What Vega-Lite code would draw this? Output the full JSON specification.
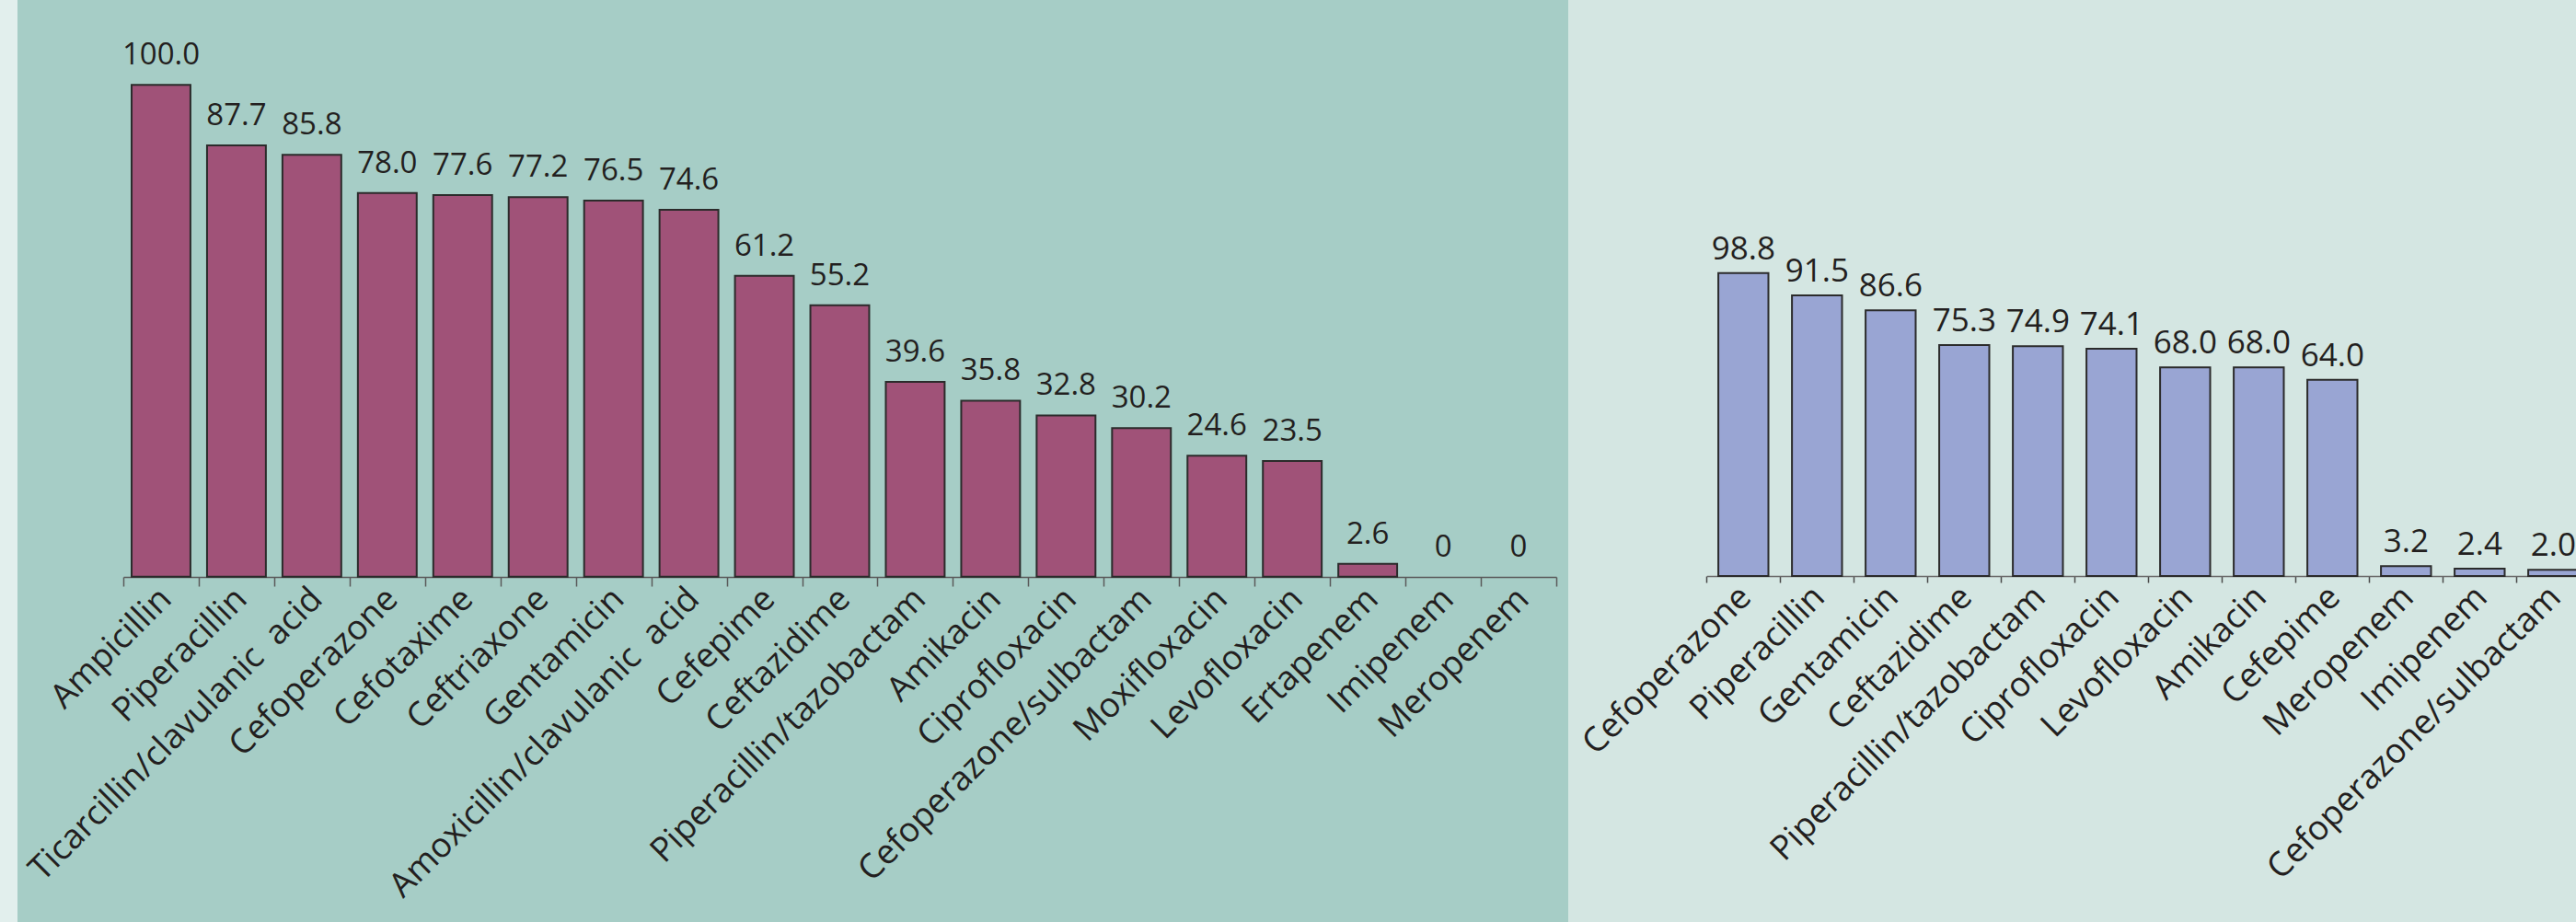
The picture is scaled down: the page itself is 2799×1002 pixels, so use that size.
{
  "$schema": "https://vega.github.io/schema/vega-lite/v6.json",
  "background": "#e2efed",
  "padding": {"left": 5, "top": 0, "right": 0, "bottom": 0},
  "spacing": 0,
  "bounds": "flush",
  "config": {"view": {"stroke": null}},
  "hconcat": [
    {
      "width": 1685,
      "height": 1002,
      "view": {"fill": "#a6cdc6", "stroke": null},
      "data": {"values": [
        {"drug": "Ampicillin", "value": 100.0, "label": "100.0"},
        {"drug": "Piperacillin", "value": 87.7, "label": "87.7"},
        {"drug": "Ticarcillin/clavulanic\u00a0 acid", "value": 85.8, "label": "85.8"},
        {"drug": "Cefoperazone", "value": 78.0, "label": "78.0"},
        {"drug": "Cefotaxime", "value": 77.6, "label": "77.6"},
        {"drug": "Ceftriaxone", "value": 77.2, "label": "77.2"},
        {"drug": "Gentamicin", "value": 76.5, "label": "76.5"},
        {"drug": "Amoxicillin/clavulanic\u00a0 acid", "value": 74.6, "label": "74.6"},
        {"drug": "Cefepime", "value": 61.2, "label": "61.2"},
        {"drug": "Ceftazidime", "value": 55.2, "label": "55.2"},
        {"drug": "Piperacillin/tazobactam", "value": 39.6, "label": "39.6"},
        {"drug": "Amikacin", "value": 35.8, "label": "35.8"},
        {"drug": "Ciprofloxacin", "value": 32.8, "label": "32.8"},
        {"drug": "Cefoperazone/sulbactam", "value": 30.2, "label": "30.2"},
        {"drug": "Moxifloxacin", "value": 24.6, "label": "24.6"},
        {"drug": "Levofloxacin", "value": 23.5, "label": "23.5"},
        {"drug": "Ertapenem", "value": 2.6, "label": "2.6"},
        {"drug": "Imipenem", "value": 0, "label": "0"},
        {"drug": "Meropenem", "value": 0, "label": "0"}
      ]},
      "encoding": {
        "x": {
          "field": "drug", "type": "nominal", "sort": null,
          "scale": {"range": [115, 1672], "paddingInner": 0, "paddingOuter": 0},
          "axis": {
            "title": null, "orient": "bottom", "offset": -375,
            "domainColor": "#5a5a5a", "domainWidth": 1.5,
            "tickColor": "#5a5a5a", "tickWidth": 1.5, "tickSize": 10, "tickBand": "extent",
            "labelAngle": -45, "labelAlign": "right", "labelBaseline": "middle", "labelPadding": 8, "labelOffset": 5,
            "labelFont": "Open Sans", "labelFontSize": 37, "labelColor": "#231f20",
            "labelLimit": 0, "labelOverlap": false, "labelBound": false
          }
        },
        "y": {
          "field": "value", "type": "quantitative",
          "scale": {"domain": [0, 100], "range": [626.7, 92.3], "nice": false, "zero": true},
          "axis": null
        }
      },
      "layer": [
        {"transform": [{"filter": "datum.value > 0"}],
         "mark": {"type": "bar", "width": {"band": 0.78}, "fill": "#a05278", "stroke": "#2b2b2b", "strokeWidth": 2}},
        {"mark": {"type": "text", "baseline": "alphabetic", "dy": -22, "font": "Open Sans", "fontSize": 33, "fill": "#231f20"},
         "encoding": {"text": {"field": "label"}}}
      ]
    },
    {
      "width": 1096,
      "height": 1002,
      "view": {"fill": "#d4e6e2", "stroke": null},
      "data": {"values": [
        {"drug": "Cefoperazone", "value": 98.8, "label": "98.8"},
        {"drug": "Piperacillin", "value": 91.5, "label": "91.5"},
        {"drug": "Gentamicin", "value": 86.6, "label": "86.6"},
        {"drug": "Ceftazidime", "value": 75.3, "label": "75.3"},
        {"drug": "Piperacillin/tazobactam", "value": 74.9, "label": "74.9"},
        {"drug": "Ciprofloxacin", "value": 74.1, "label": "74.1"},
        {"drug": "Levofloxacin", "value": 68.0, "label": "68.0"},
        {"drug": "Amikacin", "value": 68.0, "label": "68.0"},
        {"drug": "Cefepime", "value": 64.0, "label": "64.0"},
        {"drug": "Meropenem", "value": 3.2, "label": "3.2"},
        {"drug": "Imipenem", "value": 2.4, "label": "2.4"},
        {"drug": "Cefoperazone/sulbactam", "value": 2.0, "label": "2.0"}
      ]},
      "encoding": {
        "x": {
          "field": "drug", "type": "nominal", "sort": null,
          "scale": {"range": [150.3, 1110.3], "paddingInner": 0, "paddingOuter": 0},
          "axis": {
            "title": null, "orient": "bottom", "offset": -376,
            "domainColor": "#6a6a6a", "domainWidth": 1.5,
            "tickColor": "#4a4a4a", "tickWidth": 1.5, "tickSize": 7, "tickBand": "extent",
            "labelAngle": -45, "labelAlign": "right", "labelBaseline": "middle", "labelPadding": 10, "labelOffset": 2,
            "labelFont": "Open Sans", "labelFontSize": 37, "labelColor": "#231f20",
            "labelLimit": 0, "labelOverlap": false, "labelBound": false
          }
        },
        "y": {
          "field": "value", "type": "quantitative",
          "scale": {"domain": [0, 100], "range": [626, 292.7], "nice": false, "zero": true},
          "axis": null
        }
      },
      "layer": [
        {"mark": {"type": "bar", "width": {"band": 0.68}, "fill": "#99a5d3", "stroke": "#2b2b2b", "strokeWidth": 2}},
        {"mark": {"type": "text", "baseline": "alphabetic", "dy": -15, "font": "Open Sans", "fontSize": 35, "fill": "#231f20"},
         "encoding": {"text": {"field": "label"}}}
      ]
    }
  ]
}
